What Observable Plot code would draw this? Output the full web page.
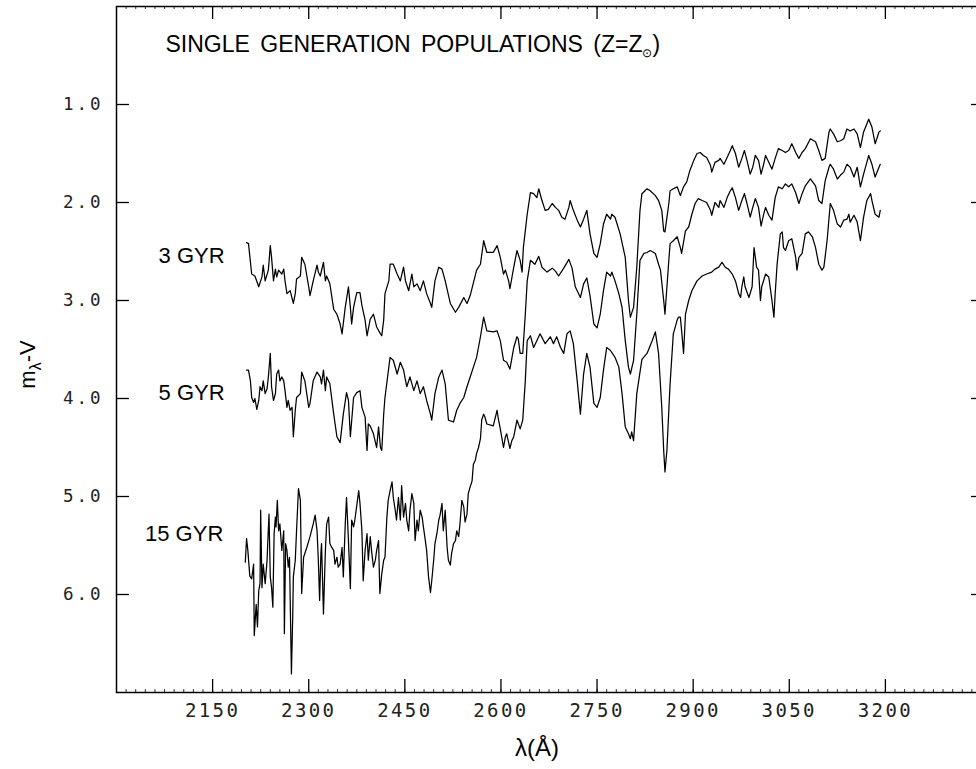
<!DOCTYPE html>
<html><head><meta charset="utf-8">
<script src="https://cdn.jsdelivr.net/npm/d3@7"></script>
<script src="https://cdn.jsdelivr.net/npm/@observablehq/plot@0.6"></script>
<style>
html,body{margin:0;padding:0;background:#fff;overflow:hidden;}
#chart{width:976px;height:769px;overflow:hidden;}
#chart svg{max-width:none !important;}
g[aria-label="x-axis tick label"] text{font-family:"DejaVu Sans Mono",monospace;font-size:19px;letter-spacing:2.4px;fill:#222;}
g[aria-label="y-axis tick label"] text{font-family:"DejaVu Sans Mono",monospace;font-size:17.5px;letter-spacing:3px;fill:#222;}
</style></head><body><div id="chart"></div>
<script>
const ticksX = [2150,2300,2450,2600,2750,2900,3050,3200];
const ticksY = [1,2,3,4,5,6];
const seriesNames = ["3 GYR","5 GYR","15 GYR"];
const labelLevels = [2.55, 3.94, 5.38];
const titleText = "SINGLE GENERATION POPULATIONS (Z=Z⊙)";
const xLabel = "λ(Å)";
const yLabel = "mλ-V";

// [wavelength (Å), m_λ - V]
const gyr3 = [[2203,2.41],[2206,2.42],[2211,2.73],[2216,2.75],[2222,2.86],[2227,2.76],[2229,2.64],[2232,2.80],[2237,2.69],[2240,2.44],[2242,2.56],[2245,2.80],[2248,2.68],[2250,2.76],[2253,2.69],[2258,2.73],[2261,2.68],[2263,2.80],[2266,2.93],[2271,2.90],[2276,3.03],[2279,2.93],[2281,2.78],[2287,2.75],[2289,2.56],[2294,2.63],[2300,2.86],[2302,2.95],[2307,2.80],[2313,2.64],[2315,2.71],[2318,2.75],[2323,2.61],[2326,2.80],[2328,2.75],[2333,2.83],[2339,3.09],[2344,3.14],[2349,3.24],[2352,3.34],[2357,3.07],[2362,2.86],[2365,3.07],[2367,3.24],[2370,3.07],[2375,2.92],[2380,2.92],[2383,3.05],[2388,3.20],[2391,3.36],[2396,3.19],[2401,3.14],[2406,3.27],[2412,3.34],[2414,3.36],[2417,3.20],[2419,2.93],[2425,2.80],[2427,2.63],[2432,2.63],[2438,2.73],[2443,2.80],[2448,2.66],[2451,2.80],[2456,2.90],[2461,2.73],[2464,2.86],[2469,2.83],[2474,2.90],[2479,2.80],[2484,2.93],[2490,3.03],[2492,3.07],[2497,2.80],[2503,2.66],[2508,2.68],[2513,2.80],[2521,3.03],[2529,3.12],[2534,3.07],[2542,2.97],[2547,3.03],[2552,2.95],[2562,2.69],[2568,2.63],[2573,2.39],[2578,2.51],[2588,2.51],[2594,2.44],[2599,2.56],[2604,2.73],[2607,2.69],[2612,2.80],[2614,2.88],[2620,2.66],[2625,2.49],[2630,2.59],[2633,2.71],[2635,2.46],[2641,2.12],[2646,1.90],[2651,1.91],[2656,1.95],[2659,1.86],[2664,1.98],[2669,2.08],[2674,2.07],[2680,2.01],[2685,2.05],[2690,2.08],[2695,2.15],[2700,2.17],[2706,2.05],[2708,1.98],[2713,2.08],[2719,2.18],[2724,2.25],[2729,2.17],[2734,2.08],[2739,2.32],[2745,2.52],[2750,2.56],[2755,2.42],[2760,2.22],[2765,2.12],[2771,2.17],[2773,2.12],[2778,2.15],[2786,2.32],[2794,2.56],[2799,3.00],[2802,3.17],[2807,3.07],[2812,2.66],[2817,2.08],[2820,1.91],[2828,1.86],[2833,1.88],[2841,1.93],[2846,1.98],[2851,2.08],[2854,2.29],[2856,2.30],[2862,2.01],[2864,1.88],[2869,1.86],[2875,1.84],[2880,1.93],[2885,1.84],[2890,1.79],[2895,1.67],[2901,1.57],[2906,1.50],[2911,1.49],[2916,1.52],[2921,1.54],[2927,1.62],[2929,1.69],[2934,1.59],[2940,1.57],[2942,1.55],[2948,1.61],[2953,1.54],[2958,1.47],[2961,1.42],[2966,1.50],[2971,1.64],[2976,1.55],[2980,1.47],[2984,1.57],[2989,1.71],[2993,1.64],[2997,1.52],[3002,1.57],[3006,1.71],[3010,1.61],[3013,1.52],[3018,1.59],[3023,1.66],[3028,1.55],[3033,1.45],[3039,1.47],[3044,1.49],[3049,1.47],[3054,1.40],[3060,1.49],[3065,1.55],[3070,1.49],[3075,1.45],[3083,1.35],[3091,1.38],[3096,1.47],[3101,1.57],[3106,1.55],[3112,1.28],[3114,1.25],[3119,1.30],[3125,1.38],[3130,1.37],[3135,1.35],[3140,1.25],[3145,1.27],[3151,1.25],[3156,1.30],[3161,1.44],[3166,1.28],[3171,1.20],[3174,1.15],[3179,1.23],[3184,1.40],[3190,1.28],[3192,1.27]];

const gyr5 = [[2203,3.71],[2206,3.71],[2209,3.82],[2211,3.99],[2214,4.04],[2216,4.00],[2219,4.11],[2222,4.02],[2224,3.88],[2227,3.92],[2229,3.82],[2232,3.95],[2235,3.90],[2237,3.78],[2240,3.54],[2242,3.88],[2245,4.02],[2248,3.95],[2250,3.75],[2253,3.71],[2255,3.82],[2258,3.78],[2261,3.82],[2263,3.92],[2266,4.09],[2268,4.02],[2271,4.12],[2274,4.09],[2276,4.39],[2279,4.12],[2281,3.99],[2287,3.95],[2289,3.73],[2294,3.82],[2300,4.09],[2302,4.05],[2307,3.82],[2313,3.73],[2318,3.78],[2320,3.85],[2323,3.71],[2326,3.92],[2328,3.78],[2333,3.85],[2339,4.16],[2344,4.39],[2349,4.45],[2354,4.16],[2359,3.94],[2362,4.02],[2365,4.39],[2370,3.99],[2375,3.94],[2380,3.92],[2383,4.09],[2388,4.19],[2391,4.53],[2393,4.26],[2396,4.28],[2401,4.36],[2406,4.50],[2409,4.29],[2412,4.50],[2414,4.53],[2417,4.16],[2419,3.99],[2425,3.68],[2427,3.58],[2432,3.61],[2438,3.75],[2443,3.63],[2448,3.71],[2453,3.88],[2458,3.78],[2464,3.92],[2469,3.82],[2474,3.95],[2479,3.88],[2484,4.02],[2490,4.16],[2492,4.22],[2497,3.95],[2503,3.78],[2508,3.71],[2513,3.85],[2518,4.22],[2526,4.24],[2531,4.12],[2536,4.05],[2542,3.99],[2547,3.88],[2552,3.78],[2557,3.68],[2562,3.58],[2568,3.37],[2573,3.17],[2578,3.31],[2588,3.32],[2594,3.31],[2599,3.41],[2604,3.61],[2609,3.63],[2614,3.70],[2620,3.48],[2625,3.37],[2627,3.39],[2630,3.54],[2634,3.54],[2638,3.14],[2641,2.80],[2646,2.59],[2653,2.63],[2659,2.55],[2664,2.66],[2672,2.71],[2680,2.67],[2685,2.70],[2690,2.75],[2698,2.67],[2706,2.58],[2711,2.67],[2716,2.86],[2724,2.97],[2729,2.83],[2734,2.77],[2739,2.95],[2745,3.24],[2750,3.28],[2755,3.14],[2760,2.90],[2765,2.71],[2771,2.75],[2773,2.71],[2778,2.80],[2784,2.93],[2789,3.07],[2794,3.41],[2799,3.68],[2802,3.75],[2807,3.61],[2812,3.14],[2817,2.59],[2823,2.52],[2828,2.51],[2833,2.49],[2841,2.52],[2846,2.63],[2849,2.69],[2854,3.00],[2856,3.14],[2862,2.59],[2864,2.42],[2869,2.39],[2875,2.35],[2880,2.46],[2882,2.52],[2888,2.29],[2893,2.25],[2898,2.12],[2903,2.01],[2908,1.96],[2914,1.98],[2921,2.00],[2927,2.08],[2929,2.13],[2934,2.00],[2940,2.05],[2942,1.98],[2948,2.05],[2953,1.95],[2958,1.88],[2961,1.85],[2966,1.95],[2971,2.08],[2976,1.98],[2980,1.91],[2984,2.01],[2989,2.15],[2993,2.05],[2997,1.96],[3002,2.05],[3006,2.24],[3010,2.12],[3013,2.05],[3018,2.13],[3023,2.18],[3028,1.95],[3033,1.84],[3039,1.86],[3044,1.81],[3049,1.84],[3054,1.81],[3060,1.90],[3065,2.01],[3070,1.91],[3075,1.83],[3083,1.76],[3091,1.83],[3096,1.98],[3101,2.01],[3106,1.78],[3112,1.64],[3114,1.61],[3119,1.66],[3125,1.76],[3130,1.72],[3135,1.69],[3140,1.61],[3145,1.64],[3151,1.74],[3156,1.64],[3161,1.84],[3166,1.71],[3171,1.59],[3174,1.52],[3179,1.61],[3184,1.74],[3190,1.64],[3192,1.61]];

const gyr15 = [[2201,5.67],[2203,5.43],[2205,5.55],[2208,5.81],[2211,5.84],[2214,5.69],[2215,6.42],[2218,6.10],[2220,6.33],[2222,5.96],[2224,5.89],[2225,5.14],[2227,5.93],[2229,5.69],[2232,5.89],[2235,5.65],[2236,5.48],[2238,5.18],[2240,5.82],[2242,5.93],[2244,6.13],[2246,5.38],[2248,5.21],[2249,5.31],[2251,5.04],[2253,5.35],[2255,5.28],[2258,5.55],[2261,5.35],[2262,6.40],[2264,5.48],[2266,5.55],[2268,5.72],[2270,5.62],[2273,6.81],[2275,6.23],[2276,5.82],[2279,5.65],[2281,5.35],[2284,4.92],[2287,5.04],[2289,5.99],[2292,5.62],[2297,5.52],[2302,5.41],[2307,5.28],[2310,5.19],[2313,5.35],[2315,5.65],[2317,6.06],[2319,5.58],[2320,5.48],[2323,6.20],[2326,5.55],[2328,5.28],[2331,5.21],[2333,5.48],[2336,5.52],[2339,5.55],[2341,5.69],[2344,5.62],[2346,5.72],[2349,5.69],[2352,5.52],[2354,5.82],[2357,5.28],[2359,5.01],[2362,5.45],[2365,5.94],[2367,5.24],[2370,5.31],[2372,5.24],[2378,4.94],[2380,5.07],[2383,5.35],[2385,5.86],[2388,5.55],[2391,5.38],[2393,5.65],[2396,5.41],[2398,5.55],[2401,5.72],[2404,5.65],[2406,5.55],[2409,5.45],[2411,5.99],[2414,5.79],[2417,5.65],[2419,5.62],[2422,5.21],[2424,5.04],[2427,4.94],[2430,4.85],[2432,5.01],[2435,5.14],[2437,5.24],[2440,5.01],[2443,5.24],[2445,4.89],[2448,5.21],[2451,5.07],[2453,5.24],[2456,5.35],[2458,5.14],[2461,4.97],[2464,5.07],[2466,5.45],[2469,5.24],[2471,5.35],[2474,5.14],[2477,5.21],[2479,5.31],[2482,5.45],[2484,5.55],[2487,5.82],[2490,5.98],[2492,5.86],[2495,5.65],[2497,5.48],[2500,5.38],[2503,5.24],[2505,5.19],[2508,5.07],[2510,5.35],[2513,5.14],[2516,5.52],[2518,5.65],[2521,5.70],[2523,5.58],[2526,5.48],[2529,5.45],[2531,5.35],[2534,5.41],[2536,5.28],[2539,5.04],[2542,5.11],[2544,5.26],[2547,5.18],[2549,4.97],[2552,4.90],[2555,4.84],[2557,4.67],[2560,4.63],[2562,4.56],[2565,4.50],[2568,4.41],[2570,4.22],[2573,4.16],[2575,4.19],[2578,4.26],[2588,4.28],[2594,4.12],[2596,4.21],[2599,4.31],[2604,4.50],[2607,4.39],[2609,4.36],[2614,4.51],[2617,4.43],[2620,4.39],[2625,4.22],[2630,4.31],[2634,4.22],[2638,3.82],[2641,3.41],[2646,3.36],[2651,3.48],[2656,3.41],[2661,3.34],[2669,3.44],[2677,3.37],[2682,3.44],[2687,3.37],[2693,3.48],[2698,3.54],[2703,3.34],[2708,3.31],[2713,3.44],[2719,3.82],[2724,4.16],[2729,3.75],[2734,3.54],[2739,3.68],[2745,4.05],[2750,4.09],[2755,3.99],[2760,3.71],[2765,3.48],[2771,3.51],[2778,3.58],[2784,3.68],[2789,3.95],[2794,4.29],[2799,4.36],[2802,4.41],[2804,4.34],[2807,4.43],[2812,3.95],[2820,3.60],[2828,3.54],[2836,3.41],[2841,3.32],[2846,3.54],[2851,4.09],[2854,4.53],[2856,4.75],[2859,4.53],[2864,3.85],[2869,3.34],[2875,3.20],[2877,3.17],[2880,3.17],[2882,3.31],[2885,3.54],[2888,3.14],[2893,3.00],[2898,2.90],[2906,2.80],[2914,2.75],[2921,2.73],[2929,2.71],[2934,2.68],[2940,2.66],[2945,2.61],[2950,2.66],[2955,2.68],[2961,2.73],[2966,2.80],[2971,2.93],[2974,2.97],[2976,2.86],[2979,2.76],[2981,2.86],[2987,2.97],[2992,2.86],[2995,2.46],[2999,2.66],[3002,2.69],[3005,3.00],[3007,2.86],[3013,2.73],[3018,2.76],[3023,3.00],[3026,3.17],[3028,2.93],[3031,2.63],[3036,2.32],[3039,2.30],[3041,2.46],[3044,2.49],[3049,2.39],[3054,2.37],[3060,2.56],[3062,2.69],[3065,2.56],[3070,2.52],[3075,2.32],[3080,2.30],[3086,2.35],[3091,2.46],[3096,2.63],[3101,2.69],[3104,2.66],[3109,2.39],[3114,2.01],[3119,2.08],[3125,2.22],[3130,2.25],[3135,2.18],[3140,2.17],[3143,2.12],[3145,2.20],[3151,2.13],[3156,2.20],[3161,2.39],[3166,2.15],[3171,1.98],[3177,1.91],[3179,1.98],[3184,2.12],[3190,2.15],[3192,2.08]];

const allSeries = [gyr3, gyr5, gyr15];
const rows = [];
allSeries.forEach((s, i) => s.forEach(([wl, mag]) => rows.push({series: seriesNames[i], wl, mag})));

const W = 990, H = 769, mL = 116, mR = 9, mT = 6, mB = 77;
const fw = W - mL - mR, fh = H - mT - mB;
const minorX = d3.range(2000, 3351, 15);

const plot = Plot.plot({
  width: W, height: H,
  marginLeft: mL, marginRight: mR, marginTop: mT, marginBottom: mB,
  x: {domain: [2000, 3350]},
  y: {domain: [0, 7], reverse: true},
  style: {background: "#fff", color: "#000", fontFamily: "'Liberation Sans', Arial, sans-serif", maxWidth: "none"},
  marks: [
    Plot.frame({stroke: "#000", strokeWidth: 1.5}),
    Plot.tickX(ticksX, {insetTop: fh - 13, stroke: "#000", strokeWidth: 1.3}),
    Plot.tickX(ticksX, {insetBottom: fh - 13, stroke: "#000", strokeWidth: 1.3}),
    Plot.tickX(minorX, {insetTop: fh - 3, stroke: "#000", strokeWidth: 0.8}),
    Plot.tickX(minorX, {insetBottom: fh - 3, stroke: "#000", strokeWidth: 0.8}),
    Plot.tickY(ticksY, {insetRight: fw - 13, stroke: "#000", strokeWidth: 1.3}),
    Plot.tickY(ticksY, {insetLeft: fw - 10, stroke: "#000", strokeWidth: 1.3}),
    Plot.axisX(ticksX, {tickSize: 0, tickPadding: 11, tickFormat: d => String(d), label: null}),
    Plot.axisY(ticksY, {tickSize: 0, tickPadding: 13, tickFormat: d3.format(".1f"), label: null}),
    Plot.line(rows, {x: "wl", y: "mag", z: "series", stroke: "#000", strokeWidth: 1.25, curve: "linear"}),
    Plot.text(seriesNames, {x: (d, i) => allSeries[i][0][0], y: (d, i) => labelLevels[i], text: d => d,
      textAnchor: "end", dx: -22, fontSize: 22, fill: "#000"}),
    Plot.text([titleText], {frameAnchor: "top-left", dx: 49, dy: 29, text: d => d, fontSize: 23, fill: "#000"}),
    Plot.text([xLabel], {frameAnchor: "bottom", lineAnchor: "middle", dx: -12, dy: 56, text: d => d, fontSize: 24, fill: "#000"}),
    Plot.text([yLabel], {frameAnchor: "left", textAnchor: "middle", dx: -89, dy: 15, rotate: -90, text: d => d, fontSize: 22, fill: "#000"})
  ]
});

const svg = d3.select(plot);
svg.selectAll("text").each(function () {
  const t = d3.select(this);
  const s = this.textContent;
  if (s === titleText) {
    const [head, tail] = titleText.split("⊙");
    t.style("word-spacing", "4px");
    t.text(head);
    t.append("tspan").attr("font-size", 12).attr("dy", 5).text("⊙");
    t.append("tspan").attr("dy", -5).text(tail);
  } else if (s === yLabel) {
    t.text(yLabel[0]);
    t.append("tspan").attr("font-size", 16).attr("dy", 6).text(yLabel[1]);
    t.append("tspan").attr("dy", -6).text(yLabel.slice(2));
  }
});
document.getElementById("chart").appendChild(plot);
</script></body></html>
